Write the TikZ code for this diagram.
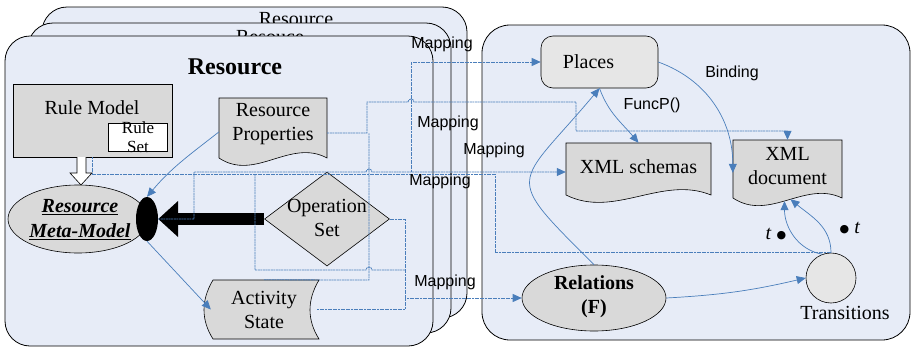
\documentclass[tikz,border=0pt]{standalone}
\usepackage{fontspec}
\setmainfont{Liberation Serif}
\setsansfont{Liberation Sans}
\newfontfamily\dotfont{DejaVu Sans}
\usetikzlibrary{shapes.geometric, arrows.meta}

\definecolor{panelblue}{RGB}{231,236,247}
\definecolor{shapegray}{RGB}{217,217,217}
\definecolor{placegray}{RGB}{230,230,230}
\definecolor{linkblue}{RGB}{74,126,187}

\tikzset{
  resbox/.style={draw, fill=panelblue, rounded corners=25pt, line width=0.8pt},
  grayshape/.style={draw, fill=shapegray, line width=0.6pt},
  txt/.style={font=\fontsize{20}{24}\selectfont, align=center, inner sep=0pt},
  maptxt/.style={font=\sffamily\fontsize{16}{18}\selectfont, inner sep=0pt},
  flow/.style={draw=linkblue, line width=0.7pt, -{Triangle[length=9pt,width=8pt]}},
  mapline/.style={draw=linkblue, line width=0.8pt, dash pattern=on 2pt off 0.6pt},
  maparrow/.style={mapline, -{Triangle[length=9pt,width=8pt]}},
}

\begin{document}
\begin{tikzpicture}[x=1pt, y=-1pt]
\useasboundingbox (0,0) rectangle (911,351);

% resource stack
\node[resbox, minimum width=425pt, minimum height=311pt] (res3) at (254.5,162.5) {};
\node[txt] (res3title) at (296,19) {Resource};
\node[resbox, minimum width=423pt, minimum height=310pt] (res2) at (239.5,178) {};
\node[txt] (res2title) at (270,37) {Resouce};
\node[resbox, minimum width=428pt, minimum height=310pt] (res1) at (219,191) {};
\node[txt, font=\bfseries\fontsize{24}{28}\selectfont] (res1title) at (235,67) {Resource};

% petri net panel
\node[resbox, rounded corners=28pt, minimum width=428pt, minimum height=315pt] (petri) at (696,182.5) {};

% rule model
\node[grayshape, minimum width=159pt, minimum height=73pt] (rule) at (92.5,120.5) {};
\node[txt] (ruletitle) at (92,108) {Rule Model};
\node[draw, fill=white, line width=0.6pt, minimum width=59pt, minimum height=28pt] (ruleset) at (137.5,137) {};
\node[txt, font=\fontsize{17}{19}\selectfont] (rulesettext) at (138,137) {Rule\\Set};
\path[draw, fill=white, line width=0.6pt] (77,157) -- (77,173) -- (70,173) -- (81,185) -- (92,173) -- (86,173) -- (86,157);

% meta model
\node[grayshape, ellipse, minimum width=140pt, minimum height=68pt] (meta) at (78,219) {};
\node[txt, font=\bfseries\itshape\fontsize{20}{25}\selectfont] (metatext) at (80,220) {\underline{Resource}\\\underline{Meta-Model}};
\node[ellipse, fill=black, minimum width=22pt, minimum height=44pt, inner sep=0pt] (ball) at (147,219) {};

% operation set
\node[grayshape, diamond, minimum width=125pt, minimum height=94pt, inner sep=0pt] (ops) at (327,219) {};
\node[txt] (opstext) at (327,218) {Operation\\Set};
\draw[line width=12pt, -{Triangle[length=20pt,width=35pt]}] (ops.west) -- (ball.east);

% resource properties
\path[grayshape] (219,98) -- (327,98) -- (327,158) .. controls (290,138) and (255,182) .. (219,158) -- cycle;
\node[txt, minimum width=108pt, minimum height=54pt] (props) at (273,124) {Resource\\Properties};

% activity state
\path[grayshape] (213,280) -- (319,280) .. controls (307,300) and (307,320) .. (319,339) -- (213,339) .. controls (201,320) and (201,300) .. (213,280) -- cycle;
\node[txt, minimum width=106pt, minimum height=59pt] (activity) at (264,309.5) {Activity\\State};

% places, schemas, document
\node[draw, fill=placegray, rounded corners=12pt, line width=0.6pt, txt, minimum width=117pt, minimum height=52pt] (places) at (599.5,62) {Places\hspace*{22pt}};
\path[grayshape] (566,143) -- (711,143) -- (711,195) .. controls (662,175) and (614,219) .. (566,195) -- cycle;
\node[txt, minimum width=145pt, minimum height=48pt] (schemas) at (638.5,167) {XML schemas};
\path[grayshape] (733,140) -- (842,140) -- (842,198) .. controls (805,180) and (769,222) .. (733,198) -- cycle;
\node[txt, minimum width=109pt, minimum height=52pt] (xmldoc) at (787.5,166) {XML\\document};

% relations, transitions
\node[grayshape, ellipse, minimum width=144pt, minimum height=66pt] (relations) at (594,298) {};
\node[txt, font=\bfseries\fontsize{20}{24}\selectfont] (relationstext) at (594,297) {Relations\\(F)};
\node[draw, circle, fill=placegray, line width=0.6pt, minimum size=50pt] (trans) at (831,278) {};
\node[txt] (translabel) at (845,313) {Transitions};
\node[txt] (tleft) at (776,234) {\textit{t} {\dotfont\fontsize{11}{11}\selectfont\raisebox{1pt}{●}}};
\node[txt] (tright) at (850,228) {{\dotfont\fontsize{11}{11}\selectfont\raisebox{1pt}{●}} \textit{t}};

% solid flows
\draw[flow] ([yshift=-8pt]props.west) to[out=218, in=50] (ball.north);
\draw[flow] (ball.south) -- (activity.west);
\draw[flow] (places.east) to[out=-20, in=90] ([yshift=-33pt]xmldoc.north west);
\draw[flow] (places.south) to[out=-70, in=130] (schemas.north);
\draw[flow] (relations.north) to[out=135, in=-130, looseness=1.9] (places.south);
\draw[flow] (relations.east) to[bend right=5] (trans.west);
\draw[flow] (trans.110) to[out=170, in=-90] ([xshift=-3pt,yshift=-9pt]xmldoc.south);
\draw[flow] (trans.north) to[out=90, in=-40] ([xshift=3pt,yshift=-7pt]xmldoc.south);

% mapping links
\draw[maparrow] (ball.east) -- (194,219) -- (194,172) -- (366,172) arc[start angle=180, end angle=0, radius=3pt] -- (schemas.west |- 0,172);
\draw[maparrow] (411,172) -- (411,62) -- (places.west);
\draw[mapline] (rule.south) -- (92.5,174) -- (495,174) |- (trans.north);
\draw[mapline] (255,174) -- (255,270) -- (366,270) arc[start angle=180, end angle=0, radius=3pt] -- (405,270);
\draw[maparrow] (props.east |- 0,133) -- (367,133) -- (367,102) -- (408,102) arc[start angle=180, end angle=0, radius=3pt] -- (576,102) -- (576,131) -| (xmldoc.north);
\draw[mapline] (activity.north) -- (369,280) -- (369,133);
\draw[maparrow] (ops.east) -- (405,219) -- (405,298) -- (relations.west);
\draw[mapline] (activity.east) -| (405,298);

% labels
\node[maptxt] (map1) at (442,44) {Mapping};
\node[maptxt] (map2) at (448,123) {Mapping};
\node[maptxt] (map3) at (494,150) {Mapping};
\node[maptxt] (map4) at (440,181) {Mapping};
\node[maptxt] (map5) at (445,282) {Mapping};
\node[maptxt] (bindlabel) at (732,73) {Binding};
\node[maptxt] (funclabel) at (652,105) {FuncP()};
\end{tikzpicture}
\end{document}
